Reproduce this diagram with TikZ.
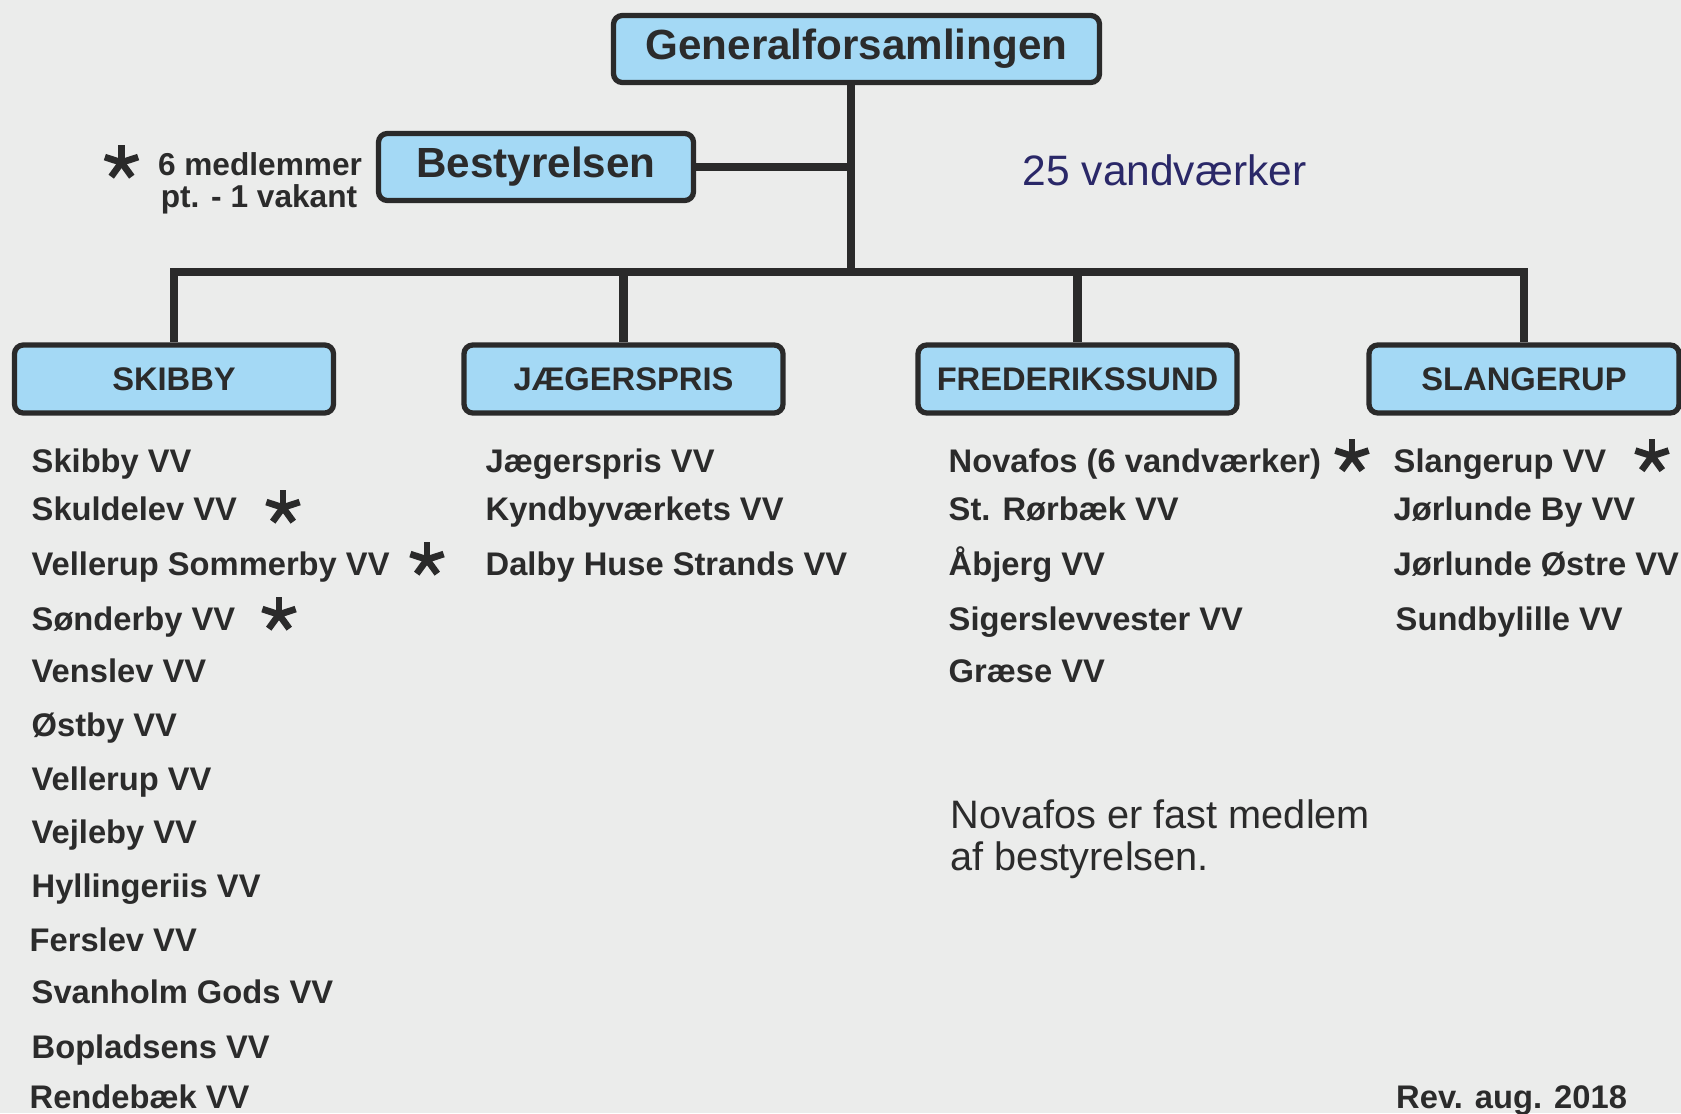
\documentclass[tikz,border=0pt]{standalone}
\usepackage{fontspec}
\setmainfont{Liberation Sans}

\definecolor{bggrey}{HTML}{EBECEB}
\definecolor{boxblue}{HTML}{A4D9F5}
\definecolor{linegrey}{HTML}{2A2A2A}
\definecolor{txtgrey}{HTML}{2B2B2B}
\definecolor{navy}{HTML}{2A2868}

\tikzset{
  box/.style={draw=linegrey, fill=boxblue, line width=1.5pt, rounded corners=2.5pt,
    inner sep=0pt, text=txtgrey, font=\bfseries\fontsize{9.3}{11}\selectfont},
  bigbox/.style={box, minimum height=0.67cm, font=\bfseries\fontsize{12}{14}\selectfont},
  areabox/.style={box, minimum width=3.19cm, minimum height=0.68cm},
  conn/.style={draw=linegrey, line width=2.4pt},
  vv/.style={inner sep=0pt, anchor=base west, text=txtgrey, font=\bfseries\fontsize{9.3}{11}\selectfont},
  note/.style={inner sep=0pt, anchor=base west, text=txtgrey, font=\fontsize{11.3}{13}\selectfont},
  vvstar/.pic={\foreach \a in {90,18,162,234,306} \draw[linegrey, line width=1.9pt] (0,0) -- (\a:0.175);}
}

\begin{document}
\begin{tikzpicture}
\fill[bggrey] (0,0) rectangle (16.81,11.13);
\useasboundingbox (0,0) rectangle (16.81,11.13);
% top of the tree
\node[bigbox, minimum width=4.86cm] (gen) at (8.565,10.64) {Generalforsamlingen};
\node[bigbox, minimum width=3.15cm] (best) at (5.36,9.46) {Bestyrelsen};
\node[inner sep=0pt, anchor=base, text=txtgrey, font=\bfseries\fontsize{9}{11}\selectfont] (medl) at (2.6,9.38) {6 medlemmer};
\node[inner sep=0pt, anchor=base, text=txtgrey, font=\bfseries\fontsize{9}{11}\selectfont] (vakant) at (2.59,9.06) {pt. - 1 vakant};
\node[inner sep=0pt, anchor=base west, text=navy, font=\fontsize{12.1}{14}\selectfont] (antal) at (10.22,9.28) {25 vandværker};
% the four areas
\node[areabox] (skibby) at (1.74,7.34) {SKIBBY};
\node[areabox] (jaeger) at (6.235,7.34) {JÆGERSPRIS};
\node[areabox] (fred) at (10.775,7.34) {FREDERIKSSUND};
\node[areabox, minimum width=3.10cm] (slang) at (15.24,7.34) {SLANGERUP};
% connectors
\coordinate (bus) at (8.51,8.41);
\draw[conn] (gen.south -| bus) -- (bus);
\draw[conn] (best) -- (best -| bus);
\draw[conn] (bus) -| (skibby);
\draw[conn] (bus) -| (jaeger);
\draw[conn] (bus) -| (fred);
\draw[conn] (bus) -| (slang);
% Skibby
\node[vv] (s1) at (0.31,6.41) {Skibby VV};
\node[vv] (s2) at (0.31,5.93) {Skuldelev VV};
\node[vv] (s3) at (0.31,5.38) {Vellerup Sommerby VV};
\node[vv] (s4) at (0.31,4.83) {Sønderby VV};
\node[vv] (s5) at (0.31,4.31) {Venslev VV};
\node[vv] (s6) at (0.31,3.77) {Østby VV};
\node[vv] (s7) at (0.31,3.23) {Vellerup VV};
\node[vv] (s8) at (0.31,2.70) {Vejleby VV};
\node[vv] (s9) at (0.31,2.16) {Hyllingeriis VV};
\node[vv] (s10) at (0.29,1.62) {Ferslev VV};
\node[vv] (s11) at (0.31,1.10) {Svanholm Gods VV};
\node[vv] (s12) at (0.31,0.55) {Bopladsens VV};
\node[vv] (s13) at (0.29,0.05) {Rendebæk VV};
% Jægerspris
\node[vv] (j1) at (4.85,6.41) {Jægerspris VV};
\node[vv] (j2) at (4.85,5.93) {Kyndbyværkets VV};
\node[vv] (j3) at (4.85,5.38) {Dalby Huse Strands VV};
% Frederikssund
\node[vv] (f1) at (9.48,6.41) {Novafos (6 vandværker)};
\node[vv] (f2) at (9.48,5.93) {St. Rørbæk VV};
\node[vv] (f3) at (9.48,5.38) {Åbjerg VV};
\node[vv] (f4) at (9.48,4.83) {Sigerslevvester VV};
\node[vv] (f5) at (9.48,4.31) {Græse VV};
% Slangerup
\node[vv] (l1) at (13.93,6.41) {Slangerup VV};
\node[vv] (l2) at (13.93,5.93) {Jørlunde By VV};
\node[vv] (l3) at (13.93,5.38) {Jørlunde Østre VV};
\node[vv] (l4) at (13.95,4.83) {Sundbylille VV};
% notes
\node[note] (nova1) at (9.50,2.85) {Novafos er fast medlem};
\node[note] (nova2) at (9.50,2.43) {af bestyrelsen.};
\node[vv] (rev) at (13.955,0.05) {Rev. aug. 2018};
% board members
\pic at (1.215,9.505) {vvstar};
\pic at (2.83,6.055) {vvstar};
\pic at (4.27,5.535) {vvstar};
\pic at (2.79,4.985) {vvstar};
\pic at (13.52,6.57) {vvstar};
\pic at (16.52,6.57) {vvstar};
\end{tikzpicture}
\end{document}
